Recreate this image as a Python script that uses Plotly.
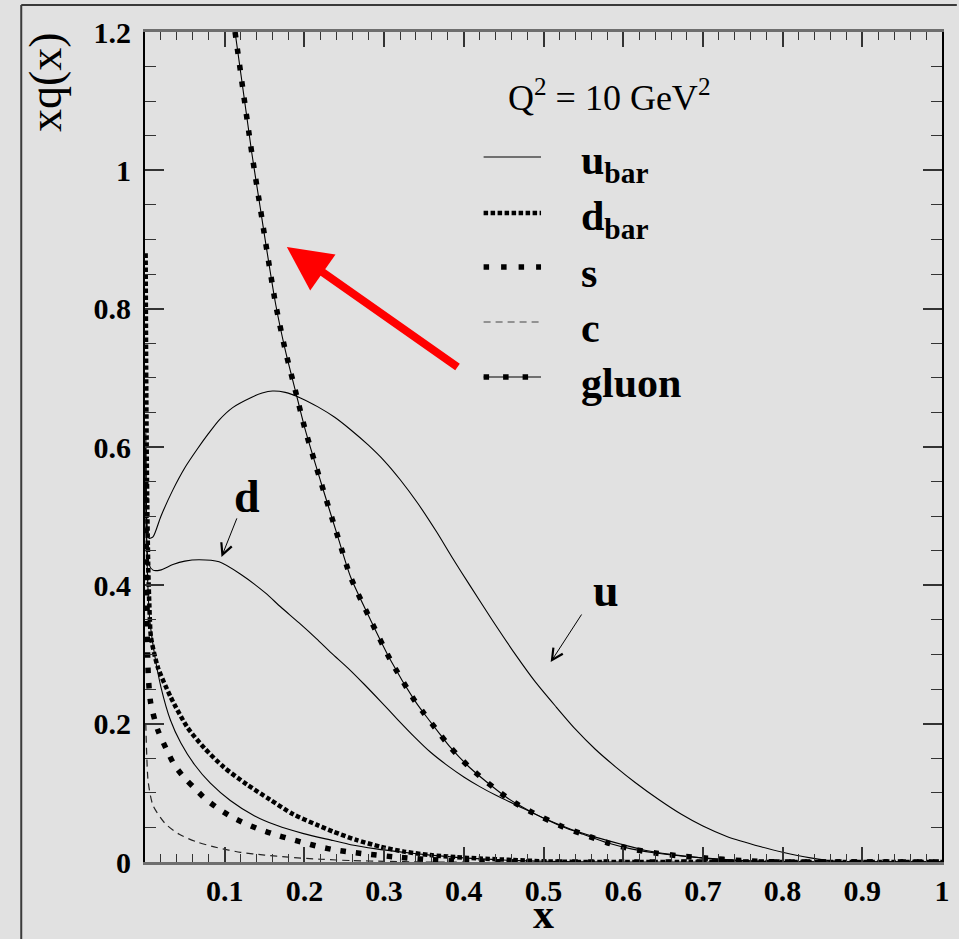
import plotly.graph_objects as go

# ---------------- data ----------------
u_x = [0.0008, 0.002, 0.005, 0.01, 0.02, 0.035, 0.05, 0.065, 0.08, 0.093, 0.11, 0.134, 0.147, 0.16,
       0.176, 0.195, 0.217, 0.238, 0.258, 0.28, 0.301, 0.32, 0.342, 0.366, 0.385, 0.407, 0.435, 0.466,
       0.49, 0.516, 0.54, 0.565, 0.59, 0.615, 0.645, 0.673, 0.7, 0.73, 0.773, 0.8, 0.835, 0.87, 0.9, 0.95, 1.0]
u_y = [0.60, 0.50, 0.468, 0.470, 0.50, 0.538, 0.570, 0.596, 0.620, 0.639, 0.657, 0.672, 0.678, 0.681,
       0.679, 0.671, 0.658, 0.643, 0.625, 0.603, 0.579, 0.553, 0.519, 0.477, 0.441, 0.401, 0.351, 0.298,
       0.260, 0.224, 0.192, 0.163, 0.138, 0.115, 0.090, 0.069, 0.052, 0.037, 0.022, 0.014, 0.006, 0.001, 0.0, 0.0, 0.0]

d_x = [0.0008, 0.002, 0.005, 0.01, 0.019, 0.035, 0.05, 0.068, 0.093, 0.12, 0.151, 0.17, 0.193, 0.215,
       0.234, 0.255, 0.275, 0.295, 0.317, 0.338, 0.358, 0.38, 0.4, 0.42, 0.441, 0.47, 0.503, 0.535, 0.565,
       0.6, 0.627, 0.66, 0.689, 0.73, 0.78, 0.85, 1.0]
d_y = [0.55, 0.46, 0.43, 0.422, 0.422, 0.430, 0.435, 0.437, 0.434, 0.416, 0.389, 0.369, 0.346, 0.323,
       0.302, 0.280, 0.257, 0.233, 0.206, 0.181, 0.159, 0.139, 0.123, 0.109, 0.096, 0.080, 0.062, 0.047, 0.036,
       0.025, 0.017, 0.011, 0.007, 0.003, 0.001, 0.0, 0.0]

ubar_x = [0.001, 0.003, 0.006, 0.012, 0.02, 0.032, 0.045, 0.062, 0.082, 0.107, 0.137, 0.165, 0.199, 0.236,
          0.258, 0.29, 0.317, 0.358, 0.4, 0.45, 0.5, 0.6, 0.7, 0.8, 0.9, 1.0]
ubar_y = [0.62, 0.42, 0.35, 0.30, 0.253, 0.205, 0.172, 0.141, 0.114, 0.089, 0.067, 0.053, 0.041, 0.031,
          0.025, 0.019, 0.015, 0.010, 0.006, 0.003, 0.001, 0.0, 0.0, 0.0, 0.0, 0.0]

dbar_x = [0.0008, 0.0015, 0.0025, 0.004, 0.0055, 0.0075, 0.016, 0.032, 0.053, 0.075, 0.099, 0.128, 0.157,
          0.186, 0.215, 0.236, 0.265, 0.296, 0.325, 0.358, 0.39, 0.42, 0.46, 0.5, 0.55, 0.6, 0.7, 0.8, 0.9, 1.0]
dbar_y = [0.88, 0.70, 0.55, 0.43, 0.37, 0.325, 0.282, 0.239, 0.195, 0.164, 0.137, 0.112, 0.090,
          0.069, 0.054, 0.044, 0.032, 0.022, 0.015, 0.010, 0.007, 0.005, 0.003, 0.001, 0.0, 0.0, 0.0, 0.0, 0.0, 0.0]

s_x = [0.001, 0.002, 0.004, 0.007, 0.016, 0.029, 0.037, 0.05, 0.062, 0.076, 0.091, 0.109, 0.125, 0.144,
       0.165, 0.18, 0.199, 0.219, 0.24, 0.26, 0.282, 0.317, 0.35, 0.4, 0.5, 0.6, 0.7, 0.8, 0.9, 1.0]
s_y = [0.55, 0.40, 0.273, 0.231, 0.191, 0.158, 0.140, 0.121, 0.107, 0.091, 0.078, 0.065, 0.056, 0.047,
       0.039, 0.034, 0.028, 0.022, 0.017, 0.014, 0.011, 0.007, 0.004, 0.001, 0.0, 0.0, 0.0, 0.0, 0.0, 0.0]

c_x = [0.001, 0.002, 0.004, 0.01, 0.025, 0.043, 0.065, 0.09, 0.12, 0.15, 0.18, 0.22, 0.26, 0.3, 0.35, 0.4]
c_y = [0.20, 0.16, 0.116, 0.082, 0.056, 0.040, 0.029, 0.021, 0.014, 0.010, 0.007, 0.004, 0.002, 0.001, 0.0, 0.0]

g_x = [0.113, 0.134, 0.145, 0.151, 0.164, 0.176, 0.189, 0.201, 0.221, 0.242, 0.258, 0.283, 0.308, 0.338,
       0.348, 0.370, 0.383, 0.407, 0.437, 0.453, 0.468, 0.487, 0.524, 0.55, 0.582, 0.61, 0.64, 0.67, 0.70,
       0.75, 0.8, 0.9, 1.0]
g_y = [1.2, 1.025, 0.943, 0.898, 0.806, 0.740, 0.680, 0.625, 0.548, 0.470, 0.412, 0.350, 0.292, 0.234,
       0.218, 0.185, 0.166, 0.137, 0.108, 0.094, 0.083, 0.071, 0.051, 0.040, 0.027, 0.019, 0.013, 0.009, 0.006,
       0.002, 0.0, 0.0, 0.0]

x_tickvals = [0.1, 0.2, 0.3, 0.4, 0.5, 0.6, 0.7, 0.8, 0.9, 1.0]
x_ticktext = ["0.1", "0.2", "0.3", "0.4", "0.5", "0.6", "0.7", "0.8", "0.9", "1"]
y_tickvals = [0, 0.2, 0.4, 0.6, 0.8, 1.0, 1.2]
y_ticktext = ["0", "0.2", "0.4", "0.6", "0.8", "1", "1.2"]

legend_labels = ["u<sub>bar</sub>", "d<sub>bar</sub>", "s", "c", "gluon"]

SERIF = "Liberation Serif"
BG = "#e1e1e1"

DBAR_DASH = "4.5px,2.5px"
S_DASH = "5.5px,10px"
G_DASH = "5.5px,11px"
C_DASH = "7px,5px"

fig = go.Figure()

thin = dict(color="black", width=1.1, shape="spline", smoothing=0.7)
fig.add_trace(go.Scatter(x=u_x, y=u_y, mode="lines", line=thin))
fig.add_trace(go.Scatter(x=d_x, y=d_y, mode="lines", line=thin))
fig.add_trace(go.Scatter(x=ubar_x, y=ubar_y, mode="lines", line=thin))
fig.add_trace(go.Scatter(x=c_x, y=c_y, mode="lines",
                         line=dict(color="#222222", width=1.2, dash=C_DASH, shape="spline", smoothing=0.7)))
fig.add_trace(go.Scatter(x=dbar_x, y=dbar_y, mode="lines",
                         line=dict(color="black", width=4.5, dash=DBAR_DASH, shape="spline", smoothing=0.7)))
fig.add_trace(go.Scatter(x=s_x, y=s_y, mode="lines",
                         line=dict(color="black", width=5.5, dash=S_DASH, shape="spline", smoothing=0.7)))
fig.add_trace(go.Scatter(x=g_x, y=g_y, mode="lines",
                         line=dict(color="black", width=1.1, shape="spline", smoothing=0.7)))
fig.add_trace(go.Scatter(x=g_x, y=g_y, mode="lines",
                         line=dict(color="black", width=5.5, dash=G_DASH, shape="spline", smoothing=0.7)))

fig.update_traces(showlegend=False, hoverinfo="skip")

fig.update_xaxes(
    range=[0, 1], tickvals=x_tickvals, ticktext=x_ticktext,
    ticks="inside", ticklen=15, tickwidth=1.5, tickcolor="#333333",
    minor=dict(dtick=0.02, tick0=0, ticks="inside", ticklen=8, tickwidth=1.2, tickcolor="#333333"),
    showline=True, linecolor="#6e6e6e", linewidth=3, mirror="ticks",
    showgrid=False, zeroline=False,
    tickfont=dict(family=SERIF, size=30, color="black", weight="bold"),
)
fig.update_yaxes(
    range=[0, 1.2], tickvals=y_tickvals, ticktext=y_ticktext,
    ticks="inside", ticklen=19, tickwidth=1.5, tickcolor="#333333",
    minor=dict(dtick=0.05, tick0=0, ticks="inside", ticklen=11, tickwidth=1.2, tickcolor="#333333"),
    showline=True, linecolor="black", linewidth=2, mirror="ticks",
    showgrid=False, zeroline=False, ticklabelstandoff=6,
    tickfont=dict(family=SERIF, size=30, color="black", weight="bold"),
)

# plot-area pixel geometry helpers (paper coords)
L, R, T, B = 145, 950, 32, 862
W, H = R - L, B - T
def px(xp):
    return (xp - L) / W
def py(yp):
    return (B - yp) / H

shapes = []
# outer frame (left and top)
shapes.append(dict(type="line", xref="paper", yref="paper", x0=px(20), x1=px(20), y0=py(5), y1=py(945),
                   line=dict(color="#3a3a3a", width=2)))
shapes.append(dict(type="line", xref="paper", yref="paper", x0=px(20), x1=px(965), y0=py(5), y1=py(5),
                   line=dict(color="#3a3a3a", width=2)))

# legend samples
rows = [157, 213, 267, 322, 377]
lx0, lx1 = px(487), px(545)
styles = [
    [dict(color="black", width=1.1)],
    [dict(color="black", width=4.5, dash=DBAR_DASH)],
    [dict(color="black", width=5.5, dash="5.5px,12px")],
    [dict(color="#444444", width=1.2, dash=C_DASH)],
    [dict(color="black", width=1.1), dict(color="black", width=5.5, dash="5.5px,14px")],
]
for r, sl in zip(rows, styles):
    for st in sl:
        shapes.append(dict(type="line", xref="paper", yref="paper", x0=lx0, x1=lx1,
                           y0=py(r), y1=py(r), line=st))

annotations = []
for r, lab in zip(rows, legend_labels):
    annotations.append(dict(xref="paper", yref="paper", x=px(583), y=py(r + 6), text=lab,
                            showarrow=False, xanchor="left", yanchor="middle",
                            font=dict(family=SERIF, size=42, color="black", weight="bold")))

annotations.append(dict(xref="paper", yref="paper", x=px(614), y=py(95),
                        text="Q<sup>2</sup> = 10 GeV<sup>2</sup>", showarrow=False,
                        xanchor="center", yanchor="middle",
                        font=dict(family=SERIF, size=36, color="black")))

# axis titles
annotations.append(dict(xref="paper", yref="paper", x=px(45), y=py(82), text="xq(x)",
                        textangle=-90, showarrow=False, xanchor="center", yanchor="middle",
                        font=dict(family=SERIF, size=46, color="black")))
annotations.append(dict(xref="paper", yref="paper", x=px(548), y=py(939), text="x",
                        showarrow=False, xanchor="center", yanchor="bottom",
                        font=dict(family=SERIF, size=42, color="black", weight="bold")))

# curve labels with arrows
annotations.append(dict(x=0.509, y=0.289, ax=0.549, ay=0.360, axref="x", ayref="y",
                        xref="x", yref="y", text="", showarrow=True,
                        arrowhead=5, arrowsize=2.2, arrowwidth=1, arrowcolor="black"))
annotations.append(dict(x=0.578, y=0.393, xref="x", yref="y", text="u", showarrow=False,
                        font=dict(family=SERIF, size=46, color="black", weight="bold")))
annotations.append(dict(x=0.096, y=0.441, ax=0.116, ay=0.499, axref="x", ayref="y",
                        xref="x", yref="y", text="", showarrow=True,
                        arrowhead=5, arrowsize=2.2, arrowwidth=1, arrowcolor="black"))
annotations.append(dict(x=0.128, y=0.528, xref="x", yref="y", text="d", showarrow=False,
                        font=dict(family=SERIF, size=46, color="black", weight="bold")))

# red arrow
annotations.append(dict(x=0.178, y=0.889, ax=0.394, ay=0.714, axref="x", ayref="y",
                        xref="x", yref="y", text="", showarrow=True,
                        arrowhead=2, arrowsize=1.1, arrowwidth=8, arrowcolor="#ff0000"))

fig.update_layout(
    width=959, height=939,
    margin=dict(l=L, r=959 - R, t=T, b=939 - B),
    paper_bgcolor=BG, plot_bgcolor=BG,
    showlegend=False,
    shapes=shapes, annotations=annotations,
)

fig.write_html("out.html")
